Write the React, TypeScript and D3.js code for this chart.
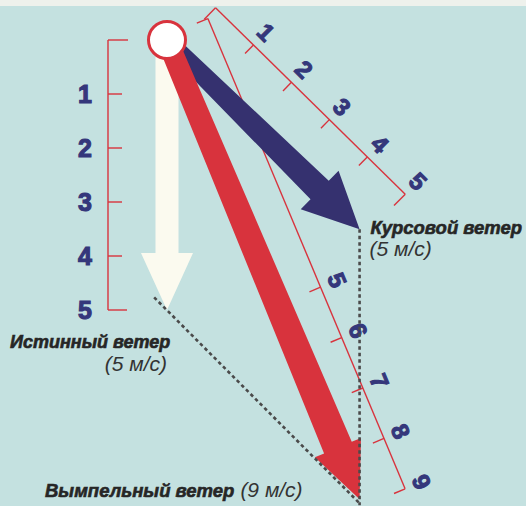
import React from "react";
import * as d3 from "d3";

// ---- data (m/s, angles in degrees measured from "straight down" toward the right)
const windKeys = ["true", "course"];
const windSpeeds = [5, 5];
const windAngles = [0, 45.5];
const windLabels = ["Истинный ветер", "Курсовой ветер", "Вымпельный ветер"];
const windSpeedTexts = ["(5 м/с)", "(5 м/с)", "(9 м/с)"];
const trueTicks = [0, 1, 2, 3, 4, 5];
const courseTicks = [0, 1, 2, 3, 4, 5];
const apparentTicks = [5, 6, 7, 8, 9];
const apparentScaleMax = 9;

const W = 526;
const H = 506;
const O = { x: 167, y: 40 };

const RED = "#d8333d";
const NAVY = "#35316f";
const CREAM = "#fbfaef";
const DIGIT = "#34377b";
const TEXT = "#262626";
const BG = "#c4e1e0";
const FONT = "'Liberation Sans', Arial, Helvetica, sans-serif";

// pixel length of a wind speed
const k = d3.scaleLinear().domain([0, 5]).range([0, 270]);

type V = { x: number; y: number };
const dirOf = (deg: number): V => {
  const r = (deg * Math.PI) / 180;
  return { x: Math.sin(r), y: Math.cos(r) };
};
const add = (a: V, b: V, s = 1): V => ({ x: a.x + b.x * s, y: a.y + b.y * s });
const norm = (a: V): V => {
  const l = Math.hypot(a.x, a.y);
  return { x: a.x / l, y: a.y / l };
};
const perp = (u: V): V => ({ x: u.y, y: -u.x }); // toward upper-right

const vecs = windKeys.map((key, i) => {
  const d = dirOf(windAngles[i]);
  return { key, px: { x: d.x * k(windSpeeds[i]), y: d.y * k(windSpeeds[i]) } };
});
const trueV = vecs[0].px;
const courseV = vecs[1].px;
const appV = { x: trueV.x + courseV.x, y: trueV.y + courseV.y };

const trueTip = add(O, trueV);
const courseTip = add(O, courseV);
const appTip = add(O, appV);

function arrowPath(tip: V, w0: number, w1: number, headLen: number, hw: number) {
  const u = norm({ x: tip.x - O.x, y: tip.y - O.y });
  const n = perp(u);
  const base = add(tip, u, -headLen);
  const p = d3.path();
  const pts = [
    add(O, n, w0),
    add(base, n, w1),
    add(base, n, hw),
    tip,
    add(base, n, -hw),
    add(base, n, -w1),
    add(O, n, -w0),
  ];
  pts.forEach((q, i) => (i === 0 ? p.moveTo(q.x, q.y) : p.lineTo(q.x, q.y)));
  p.closePath();
  return p.toString();
}

// oblique scale along a vector direction
function ObliqueScale({
  dir,
  offset,
  scale,
  lineStart,
  ticks,
  labels,
  labelOffset,
  tickLen,
  endTickLen,
  startTick,
}: {
  dir: V;
  offset: number;
  scale: d3.ScaleLinear<number, number>;
  lineStart: number;
  ticks: number[];
  labels: number[];
  labelOffset: number;
  tickLen: number;
  endTickLen: number;
  startTick: boolean;
}) {
  const u = norm(dir);
  const n = perp(u);
  const at = (s: number, off: number) => add(add(O, u, s), n, off);
  const [d0, d1] = scale.domain();
  const a = at(lineStart, offset);
  const b = at(scale(d1), offset);
  const angle = (Math.atan2(u.y, u.x) * 180) / Math.PI;
  return (
    <g>
      <line x1={a.x} y1={a.y} x2={b.x} y2={b.y} stroke={RED} strokeWidth={1.4} />
      {startTick && (
        <line
          x1={a.x}
          y1={a.y}
          x2={at(lineStart, offset - endTickLen).x}
          y2={at(lineStart, offset - endTickLen).y}
          stroke={RED}
          strokeWidth={1.4}
        />
      )}
      {ticks.map((t) => {
        const s = scale(t);
        const len = t === d1 || t === d0 ? endTickLen : tickLen;
        const p1 = at(s, offset);
        const p2 = at(s, offset - len);
        return <line key={t} x1={p1.x} y1={p1.y} x2={p2.x} y2={p2.y} stroke={RED} strokeWidth={1.4} />;
      })}
      {labels.map((t) => {
        const p = at(scale(t), labelOffset);
        return (
          <text
            key={t}
            x={p.x}
            y={p.y}
            transform={`rotate(${angle} ${p.x} ${p.y})`}
            textAnchor="middle"
            dominantBaseline="central"
            fontFamily={FONT}
            fontWeight="bold"
            fontSize={24}
            fill={DIGIT}
            stroke={DIGIT}
            strokeWidth={1.1}
          >
            {t}
          </text>
        );
      })}
    </g>
  );
}

export default function App() {
  const courseScale = d3.scaleLinear().domain([0, 5]).range([12, 278]);
  const appScale = d3.scaleLinear().domain([0, apparentScaleMax]).range([14, 506]);
  const vx = 108;
  const yTrue = (v: number) => O.y + k(v);

  const cu = norm(courseV);
  const dotStart = add(trueTip, cu, -18);

  return (
    <svg
      width={W}
      height={H}
      viewBox={`0 0 ${W} ${H}`}
      style={{ position: "absolute", left: 0, top: 0, display: "block" }}
    >
      <rect x={0} y={0} width={W} height={H} fill={BG} />
      <rect x={0} y={0} width={W} height={6} fill="#eef1ec" />

      {/* vertical (true wind) scale */}
      <g>
        <line x1={vx} y1={yTrue(0)} x2={vx} y2={yTrue(5)} stroke={RED} strokeWidth={1.4} />
        {trueTicks.map((t) => {
          const len = t === 0 ? 20 : t === 5 ? 19 : 14;
          return (
            <line key={t} x1={vx} y1={yTrue(t)} x2={vx + len} y2={yTrue(t)} stroke={RED} strokeWidth={1.4} />
          );
        })}
        {trueTicks
          .filter((t) => t > 0)
          .map((t) => (
            <text
              key={t}
              x={85}
              y={yTrue(t)}
              textAnchor="middle"
              dominantBaseline="central"
              fontFamily={FONT}
              fontWeight="bold"
              fontSize={25}
              fill={DIGIT}
              stroke={DIGIT}
              strokeWidth={1.1}
            >
              {t}
            </text>
          ))}
      </g>

      <ObliqueScale
        dir={courseV}
        offset={57}
        scale={courseScale}
        lineStart={courseScale(0)}
        ticks={courseTicks}
        labels={courseTicks.filter((t) => t > 0)}
        labelOffset={75}
        tickLen={12}
        endTickLen={16}
        startTick={false}
      />
      <ObliqueScale
        dir={appV}
        offset={46}
        scale={appScale}
        lineStart={-4}
        ticks={apparentTicks}
        labels={apparentTicks}
        labelOffset={64}
        tickLen={12}
        endTickLen={12}
        startTick={true}
      />

      {/* arrows */}
      <path d={arrowPath(trueTip, 11.5, 11.5, 57, 26)} fill={CREAM} />
      <path d={arrowPath(courseTip, 8.5, 13, 56, 27)} fill={NAVY} />
      <path d={arrowPath(appTip, 10.5, 15, 56, 25)} fill={RED} />
      <circle cx={O.x} cy={O.y} r={18.5} fill="#ffffff" stroke={RED} strokeWidth={3} />

      {/* parallelogram construction lines */}
      <g stroke="#4a4a4a" strokeWidth={2.6} strokeDasharray="3.5 3" fill="none">
        <line x1={dotStart.x} y1={dotStart.y} x2={appTip.x} y2={appTip.y + 4} />
        <line x1={courseTip.x} y1={courseTip.y} x2={appTip.x} y2={appTip.y + 6} />
      </g>

      {/* labels */}
      <g fontFamily={FONT} fill={TEXT}>
        <text x={courseTip.x + 11} y={courseTip.y + 5} fontSize={18.5} fontWeight="bold" fontStyle="italic" stroke={TEXT} strokeWidth={0.6}>
          {windLabels[1]}
        </text>
        <text x={courseTip.x + 10} y={courseTip.y + 27} fontSize={21} fontStyle="italic" fill="#333">
          {windSpeedTexts[1]}
        </text>
        <text x={10} y={348} fontSize={18} fontWeight="bold" fontStyle="italic" stroke={TEXT} strokeWidth={0.6}>
          {windLabels[0]}
        </text>
        <text x={167} y={371} fontSize={21} fontStyle="italic" textAnchor="end" fill="#333">
          {windSpeedTexts[0]}
        </text>
        <text x={45} y={497} fontSize={18.5} fontWeight="bold" fontStyle="italic" stroke={TEXT} strokeWidth={0.6}>
          {windLabels[2]}
          <tspan fontWeight="normal" fontSize={21} fill="#333" stroke="none" dx={6}>
            {windSpeedTexts[2]}
          </tspan>
        </text>
      </g>
    </svg>
  );
}
